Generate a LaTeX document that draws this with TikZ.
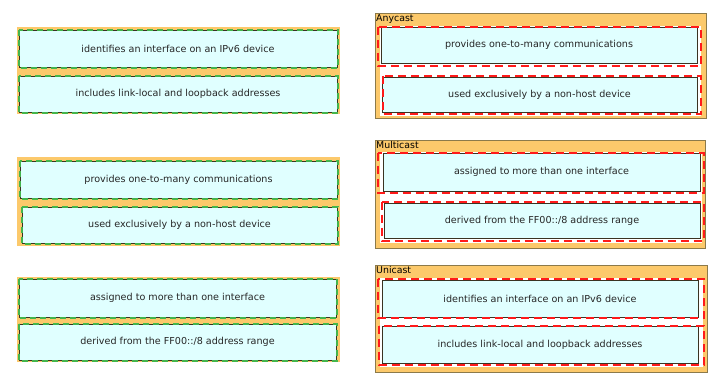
\documentclass[tikz,border=0pt]{standalone}
\usepackage{fontspec}
\setmainfont{DejaVu Sans}
\usetikzlibrary{calc}
\definecolor{panelbg}{HTML}{FCC96B}
\definecolor{panelline}{HTML}{8C7A4A}
\definecolor{itemfill}{HTML}{E0FFFF}
\definecolor{itemline}{HTML}{3A3322}
\definecolor{greenmark}{HTML}{44B54C}
\definecolor{redmark}{HTML}{FF1A1A}
\definecolor{itemtext}{HTML}{262626}
\tikzset{
  item/.style  ={draw=itemline, fill=itemfill, line width=1pt, inner sep=0pt, minimum width=316pt, minimum height=36pt, font=\fontsize{9.6}{11}\selectfont, text=itemtext},
  panel/.style ={fill=panelbg},
  group/.style ={fill=panelbg, draw=panelline, line width=1pt},
  inner/.style ={fill=white},
  gmark/.style ={draw=greenmark, line width=2pt, dash pattern=on 6pt off 4pt},
  rmark/.style ={draw=redmark, line width=2pt, dash pattern=on 8pt off 5pt},
  glab/.style  ={font=\fontsize{9.4}{11}\selectfont, text=black, inner sep=0pt, anchor=north west},
}
\begin{document}
\begin{tikzpicture}[x=1pt,y=-1pt]
  \useasboundingbox[fill=white] (0,0) rectangle (719,386);
  % left column: answer pool
  \fill[panel] (17,27) rectangle (340,114);
  \node[item,minimum width=318pt,minimum height=37pt] (poolA) at (178,48.5) {identifies an interface on an IPv6 device};
  \node[item,minimum width=318pt] (poolB) at (178,94) {includes link-local and loopback addresses};
  \draw[gmark] (poolA.north west) rectangle (poolA.south east);
  \draw[gmark] (poolB.north west) rectangle (poolB.south east);
  \fill[panel] (17,157) rectangle (340,246);
  \node[item,minimum width=317pt,minimum height=37pt] (poolC) at (178.5,179.5) {provides one-to-many communications};
  \node[item,minimum width=315pt] (poolD) at (179.5,225) {used exclusively by a non-host device};
  \draw[gmark] (poolC.north west) rectangle (poolC.south east);
  \draw[gmark] (poolD.north west) rectangle (poolD.south east);
  \fill[panel] (17,277) rectangle (340,362);
  \node[item,minimum width=317pt,minimum height=38pt] (poolE) at (177.5,298) {assigned to more than one interface};
  \node[item,minimum width=317pt] (poolF) at (177.5,342) {derived from the FF00::/8 address range};
  \draw[gmark] (poolE.north west) rectangle (poolE.south east);
  \draw[gmark] (poolF.north west) rectangle (poolF.south east);
  % right column: targets
  \draw[group] (375,13) rectangle (706,118);
  \fill[inner] (380,26) rectangle (701,116);
  \node[glab] (anyLab) at (376,14.5) {Anycast};
  \node[item] (anyA) at (539,45) {provides one-to-many communications};
  \node[item,minimum width=315pt,minimum height=35pt] (anyB) at (539.5,94.5) {used exclusively by a non-host device};
  \draw[rmark] ($(anyA.north west)+(-3,0)$) rectangle ($(anyA.south east)+(3,2)$);
  \draw[rmark] ($(anyB.north west)+(1,-1)$) rectangle ($(anyB.south east)+(3,1)$);
  \draw[group] (375,140) rectangle (705,248);
  \fill[inner] (380,152) rectangle (702,243);
  \node[glab] (multiLab) at (376,141.5) {Multicast};
  \node[item,minimum width=317pt,minimum height=38pt] (multiA) at (541.5,172) {assigned to more than one interface};
  \node[item,minimum height=35pt] (multiB) at (542,220.5) {derived from the FF00::/8 address range};
  \draw[rmark] ($(multiA.north west)+(-5,0)$) rectangle ($(multiA.south east)+(3,1)$);
  \draw[rmark] ($(multiB.north west)+(-2,-1)$) rectangle ($(multiB.south east)+(3,2)$);
  \draw[group] (375,265) rectangle (707,372);
  \fill[inner] (380,278) rectangle (703,367);
  \node[glab] (uniLab) at (376,266.5) {Unicast};
  \node[item,minimum height=37pt] (uniA) at (540,298.5) {identifies an interface on an IPv6 device};
  \node[item,minimum height=37pt] (uniB) at (540,344.5) {includes link-local and loopback addresses};
  \draw[rmark] ($(uniA.north west)+(-4,-1)$) rectangle ($(uniA.south east)+(5,0)$);
  \draw[rmark] ($(uniB.north west)+(-3,0)$) rectangle ($(uniB.south east)+(5,1)$);
\end{tikzpicture}
\end{document}
